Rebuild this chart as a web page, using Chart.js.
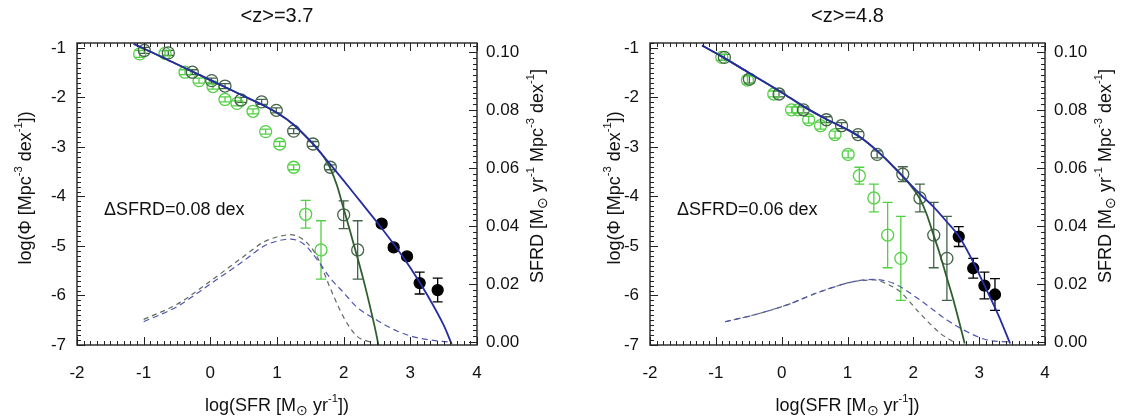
<!DOCTYPE html>
<html>
<head>
<meta charset="utf-8">
<script src="https://cdn.jsdelivr.net/npm/chart.js@4/dist/chart.umd.min.js"></script>
<style>
  body { margin: 0; background: #fff; width: 1121px; height: 416px; overflow: hidden; position: relative; }
  canvas { position: absolute; top: 0; }
</style>
</head>
<body>
<canvas id="left" style="left:0"></canvas>
<canvas id="right" style="left:560px"></canvas>
<script>
// axes shared by both panels
const xTickValues = [-2, -1, 0, 1, 2, 3, 4];
const xTickLabels = ["-2", "-1", "0", "1", "2", "3", "4"];
const yTickValues = [-7, -6, -5, -4, -3, -2, -1];
const yTickLabels = ["-7", "-6", "-5", "-4", "-3", "-2", "-1"];
const sfrdTickValues = [0, 0.02, 0.04, 0.06, 0.08, 0.10];
const sfrdTickLabels = ["0.00", "0.02", "0.04", "0.06", "0.08", "0.10"];

const xTitle = [{ t: "log(SFR [M" }, { t: "⊙", sub: true }, { t: " yr" }, { t: "-1", sup: true }, { t: "])" }];
const yTitle = [{ t: "log(Φ [Mpc" }, { t: "-3", sup: true }, { t: " dex" }, { t: "-1", sup: true }, { t: "])" }];
const y2Title = [{ t: "SFRD [M" }, { t: "⊙", sub: true }, { t: " yr" }, { t: "-1", sup: true }, { t: " Mpc" },
                 { t: "-3", sup: true }, { t: " dex" }, { t: "-1", sup: true }, { t: "]" }];

// <z>=3.7
const z37Title = "<z>=3.7";
const z37Note = "ΔSFRD=0.08 dex";
const z37UvX   = [-1.06, -0.68, -0.38, -0.17, 0.04, 0.22, 0.40, 0.64, 0.83, 1.04, 1.25, 1.43, 1.66];
const z37UvY   = [-1.12, -1.11, -1.49, -1.66, -1.78, -2.04, -2.12, -2.28, -2.69, -2.94, -3.41, -4.36, -5.08];
const z37UvErr = [0.07, 0.05, 0.05, 0.05, 0.05, 0.05, 0.05, 0.05, 0.05, 0.05, 0.05, 0.28, 0.59];
const z37CorrX   = [-0.99, -0.63, -0.27, 0.02, 0.22, 0.46, 0.77, 0.99, 1.25, 1.54, 1.80, 2.00, 2.21];
const z37CorrY   = [-1.05, -1.10, -1.49, -1.66, -1.77, -2.05, -2.09, -2.26, -2.68, -2.94, -3.41, -4.37, -5.08];
const z37CorrErr = [0.06, 0.05, 0.05, 0.05, 0.05, 0.05, 0.05, 0.05, 0.05, 0.05, 0.05, 0.28, 0.59];
const z37IrX   = [2.57, 2.75, 2.95, 3.14, 3.41];
const z37IrY   = [-4.55, -5.03, -5.21, -5.75, -5.89];
const z37IrErr = [0.06, 0.06, 0.06, 0.22, 0.24];
const z37FitX = [-1.15, -1.0, -0.5, 0.0, 0.5, 0.75, 1.0, 1.25, 1.5, 1.75, 2.0, 2.25, 2.5, 2.75, 3.0, 3.25, 3.5, 3.62];
const z37FitY = [-0.92, -1.01, -1.33, -1.65, -1.97, -2.13, -2.31, -2.55, -2.88, -3.27, -3.68, -4.10, -4.52, -4.96, -5.44, -5.98, -6.60, -6.98];
const z37UvFitX = [-1.15, -1.0, -0.5, 0.0, 0.5, 0.75, 1.0, 1.25, 1.5, 1.6, 1.7, 1.8, 1.9, 2.0, 2.1, 2.2, 2.3, 2.4, 2.5, 2.52];
const z37UvFitY = [-0.92, -1.01, -1.33, -1.65, -1.97, -2.13, -2.31, -2.55, -2.88, -3.02, -3.20, -3.43, -3.78, -4.25, -4.72, -5.20, -5.70, -6.25, -6.85, -7.0];
const z37SfrdX = [-1.0, -0.5, 0.0, 0.5, 0.8, 1.0, 1.2, 1.4, 1.6, 1.8, 2.0, 2.2, 2.5, 2.8, 3.1, 3.4, 3.6];
const z37SfrdY = [0.0070, 0.0122, 0.0200, 0.0280, 0.0330, 0.0348, 0.0355, 0.0338, 0.0285, 0.0220, 0.0170, 0.0120, 0.0075, 0.0038, 0.0015, 0.0004, 0.0];
const z37UvSfrdX = [-1.0, -0.5, 0.0, 0.5, 0.8, 1.0, 1.2, 1.4, 1.6, 1.8, 2.0, 2.2, 2.4];
const z37UvSfrdY = [0.0078, 0.0130, 0.0210, 0.0295, 0.0345, 0.0362, 0.0370, 0.0352, 0.0295, 0.0185, 0.0085, 0.0020, 0.0];

// <z>=4.8
const z48Title = "<z>=4.8";
const z48Note = "ΔSFRD=0.06 dex";
const z48UvX   = [-0.91, -0.52, -0.12, 0.15, 0.25, 0.41, 0.59, 0.81, 1.01, 1.18, 1.40, 1.61, 1.81];
const z48UvY   = [-1.19, -1.65, -1.93, -2.25, -2.25, -2.45, -2.57, -2.75, -3.15, -3.58, -4.03, -4.78, -5.25];
const z48UvErr = [0.06, 0.08, 0.06, 0.06, 0.06, 0.07, 0.07, 0.07, 0.07, 0.17, 0.28, 0.66, 0.85];
const z48CorrX   = [-0.87, -0.49, -0.04, 0.33, 0.68, 0.91, 1.16, 1.45, 1.84, 2.10, 2.31, 2.51];
const z48CorrY   = [-1.19, -1.63, -1.93, -2.25, -2.45, -2.57, -2.75, -3.15, -3.55, -4.03, -4.78, -5.25];
const z48CorrErr = [0.06, 0.08, 0.06, 0.06, 0.06, 0.06, 0.06, 0.07, 0.15, 0.28, 0.66, 0.85];
const z48IrX   = [2.69, 2.91, 3.08, 3.24];
const z48IrY   = [-4.81, -5.45, -5.80, -5.98];
const z48IrErr = [0.20, 0.20, 0.27, 0.32];
const z48FitX = [-1.21, -0.9, -0.5, 0.0, 0.33, 0.68, 1.0, 1.2, 1.45, 1.7, 1.9, 2.1, 2.3, 2.5, 2.7, 2.9, 3.1, 3.3, 3.47];
const z48FitY = [-0.95, -1.18, -1.50, -1.90, -2.18, -2.44, -2.65, -2.81, -3.08, -3.40, -3.68, -3.95, -4.20, -4.50, -4.82, -5.30, -5.85, -6.42, -6.97];
const z48UvFitX = [-1.21, -0.9, -0.5, 0.0, 0.33, 0.68, 1.0, 1.2, 1.45, 1.7, 1.9, 2.0, 2.1, 2.2, 2.3, 2.4, 2.5, 2.6, 2.7, 2.78];
const z48UvFitY = [-0.95, -1.18, -1.50, -1.90, -2.18, -2.44, -2.65, -2.81, -3.08, -3.40, -3.68, -3.85, -4.05, -4.35, -4.75, -5.15, -5.60, -6.05, -6.55, -6.97];
const z48SfrdX = [-0.86, -0.43, 0.08, 0.58, 1.09, 1.4, 1.7, 2.1, 2.51, 2.81, 3.12, 3.47];
const z48SfrdY = [0.0070, 0.0093, 0.0128, 0.0173, 0.0208, 0.0216, 0.0202, 0.0145, 0.0076, 0.0036, 0.0007, 0.0];
const z48UvSfrdX = [-0.86, -0.43, 0.08, 0.58, 1.09, 1.4, 1.6, 1.8, 2.1, 2.41, 2.61];
const z48UvSfrdY = [0.0070, 0.0093, 0.0128, 0.0173, 0.0208, 0.0214, 0.0200, 0.0173, 0.0099, 0.0030, 0.0];

const C = {
  uv: "#52d044", corr: "#44634a", ir: "#000000",
  fit: "#262ca4", uvFit: "#2f5f2f", sfrd: "#4f55b3", uvSfrd: "#5d6a60",
  text: "#111111", axis: "#222222"
};
const FONT = "'Liberation Sans', Arial, Helvetica, sans-serif";
Chart.defaults.font.family = FONT;

function pts(xs, ys) { return xs.map((x, i) => ({ x, y: ys[i] })); }

// text with super/subscripts, centered on (cx, cy)
function richText(ctx, parts, cx, cy, size, rot) {
  ctx.save();
  ctx.translate(cx, cy);
  ctx.rotate(rot);
  const fonts = parts.map(p => (p.sup ? size * 0.62 : p.sub ? size * 0.8 : size) + "px " + FONT);
  let w = 0;
  const ws = parts.map((p, i) => { ctx.font = fonts[i]; const m = ctx.measureText(p.t).width; w += m; return m; });
  let x = -w / 2;
  ctx.textBaseline = "middle";
  ctx.textAlign = "left";
  ctx.fillStyle = C.text;
  parts.forEach((p, i) => {
    ctx.font = fonts[i];
    const dy = p.sup ? -size * 0.4 : p.sub ? size * 0.3 : 0;
    ctx.fillText(p.t, x, dy);
    x += ws[i];
  });
  ctx.restore();
}

const errorBars = {
  id: "errorBars",
  beforeDatasetsDraw(chart) {
    const { ctx, chartArea: a, scales: { x, y } } = chart;
    ctx.save();
    ctx.beginPath();
    ctx.rect(a.left, a.top, a.right - a.left, a.bottom - a.top);
    ctx.clip();
    chart.data.datasets.forEach(ds => {
      if (!ds.errY) return;
      ctx.strokeStyle = ds.errColor;
      ctx.lineWidth = 1.3;
      ds.data.forEach((p, i) => {
        const e = ds.errY[i];
        const px = x.getPixelForValue(p.x);
        const hi = y.getPixelForValue(p.y + e);
        const lo = y.getPixelForValue(p.y - e);
        ctx.beginPath();
        ctx.moveTo(px, hi); ctx.lineTo(px, lo);
        ctx.moveTo(px - 5, hi); ctx.lineTo(px + 5, hi);
        ctx.moveTo(px - 5, lo); ctx.lineTo(px + 5, lo);
        ctx.stroke();
      });
    });
    ctx.restore();
  }
};

// IDL-like box with inward ticks, titles and annotation
const frame = {
  id: "frame",
  afterDraw(chart, args, opts) {
    const { ctx, chartArea: a, scales: { x, y, y2 } } = chart;
    ctx.save();
    ctx.strokeStyle = C.axis;
    ctx.lineWidth = 1;
    ctx.beginPath();
    for (let k = 0; k <= 60; k++) {
      const px = Math.round(x.getPixelForValue(-2 + k * 0.1)) + 0.5;
      const len = k % 10 === 0 ? 8 : 4;
      ctx.moveTo(px, a.bottom); ctx.lineTo(px, a.bottom - len);
      ctx.moveTo(px, a.top); ctx.lineTo(px, a.top + len);
    }
    for (let k = 0; k <= 61; k++) {
      const py = Math.round(y.getPixelForValue(-7 + k * 0.1)) + 0.5;
      const len = k % 10 === 0 ? 8 : 4;
      ctx.moveTo(a.left, py); ctx.lineTo(a.left + len, py);
    }
    for (let k = 0; k <= 51; k++) {
      const py = Math.round(y2.getPixelForValue(k * 0.002)) + 0.5;
      const len = k % 10 === 0 ? 8 : 4;
      ctx.moveTo(a.right, py); ctx.lineTo(a.right - len, py);
    }
    ctx.stroke();
    ctx.lineWidth = 1.4;
    ctx.strokeRect(a.left, a.top, a.right - a.left, a.bottom - a.top);

    const cx = (a.left + a.right) / 2;
    ctx.fillStyle = C.text;
    ctx.font = "20px " + FONT;
    ctx.textAlign = "center";
    ctx.textBaseline = "middle";
    ctx.fillText(opts.title, cx, 16);
    ctx.font = "18px " + FONT;
    ctx.textAlign = "left";
    ctx.fillText(opts.note, a.left + 27, 210);
    richText(ctx, xTitle, cx, 406, 18, 0);
    richText(ctx, yTitle, opts.yTitleX, (a.top + a.bottom) / 2 - 6, 18, -Math.PI / 2);
    richText(ctx, y2Title, a.right + 61, (a.top + a.bottom) / 2 - 18, 18, -Math.PI / 2);
    ctx.restore();
  }
};

function lineSet(xs, ys, color, axis, dash) {
  return {
    data: pts(xs, ys), yAxisID: axis, showLine: true, pointRadius: 0,
    borderColor: color, borderWidth: dash ? 1.2 : 1.8, borderDash: dash || [],
    cubicInterpolationMode: "monotone", fill: false
  };
}
function pointSet(xs, ys, errs, color, filled) {
  return {
    data: pts(xs, ys), yAxisID: "y", showLine: false, errY: errs, errColor: color,
    pointStyle: "circle", pointRadius: filled ? 5.5 : 6, borderWidth: 1.3,
    borderColor: color, backgroundColor: filled ? color : "rgba(0,0,0,0)"
  };
}

function makeChart(id, W, boxL, boxR, p) {
  const canvas = document.getElementById(id);
  canvas.width = W;
  canvas.height = 416;
  const tickFont = { size: 17, family: FONT };
  return new Chart(canvas, {
    type: "scatter",
    data: {
      datasets: [
        lineSet(p.fitX, p.fitY, C.fit, "y"),
        lineSet(p.uvFitX, p.uvFitY, C.uvFit, "y"),
        lineSet(p.sfrdX, p.sfrdY, C.sfrd, "y2", [6, 4]),
        lineSet(p.uvSfrdX, p.uvSfrdY, C.uvSfrd, "y2", [5, 4]),
        pointSet(p.irX, p.irY, p.irErr, C.ir, true),
        pointSet(p.corrX, p.corrY, p.corrErr, C.corr, false),
        pointSet(p.uvX, p.uvY, p.uvErr, C.uv, false)
      ]
    },
    options: {
      responsive: false,
      animation: false,
      events: [],
      layout: { padding: { top: 43, left: 0, right: 0, bottom: 0 } },
      plugins: {
        legend: { display: false },
        tooltip: { enabled: false },
        frame: { title: p.title, note: p.note, yTitleX: p.yTitleX }
      },
      scales: {
        x: {
          type: "linear", min: -2, max: 4,
          grid: { display: false, drawTicks: false }, border: { display: false },
          afterBuildTicks: s => { s.ticks = xTickValues.map(v => ({ value: v })); },
          afterFit: s => { s.height = 71; },
          ticks: { padding: 18, font: tickFont, color: C.text, autoSkip: false, maxRotation: 0,
                   callback: (v, i) => xTickLabels[i] }
        },
        y: {
          type: "linear", position: "left", min: -7, max: -0.9,
          grid: { display: false, drawTicks: false }, border: { display: false },
          afterBuildTicks: s => { s.ticks = yTickValues.map(v => ({ value: v })); },
          afterFit: s => { s.width = boxL; },
          ticks: { padding: 11, font: tickFont, color: C.text, autoSkip: false,
                   callback: (v, i) => yTickLabels[i] }
        },
        y2: {
          type: "linear", position: "right", min: -0.00103, max: 0.1031,
          grid: { display: false, drawTicks: false }, border: { display: false },
          afterBuildTicks: s => { s.ticks = sfrdTickValues.map(v => ({ value: v })); },
          afterFit: s => { s.width = W - boxR; },
          ticks: { padding: 9, font: tickFont, color: C.text, autoSkip: false,
                   callback: (v, i) => sfrdTickLabels[i] }
        }
      }
    },
    plugins: [errorBars, frame]
  });
}

makeChart("left", 560, 77, 477, {
  title: z37Title, note: z37Note, yTitleX: 26,
  uvX: z37UvX, uvY: z37UvY, uvErr: z37UvErr,
  corrX: z37CorrX, corrY: z37CorrY, corrErr: z37CorrErr,
  irX: z37IrX, irY: z37IrY, irErr: z37IrErr,
  fitX: z37FitX, fitY: z37FitY, uvFitX: z37UvFitX, uvFitY: z37UvFitY,
  sfrdX: z37SfrdX, sfrdY: z37SfrdY, uvSfrdX: z37UvSfrdX, uvSfrdY: z37UvSfrdY
});
makeChart("right", 561, 90, 485, {
  title: z48Title, note: z48Note, yTitleX: 55,
  uvX: z48UvX, uvY: z48UvY, uvErr: z48UvErr,
  corrX: z48CorrX, corrY: z48CorrY, corrErr: z48CorrErr,
  irX: z48IrX, irY: z48IrY, irErr: z48IrErr,
  fitX: z48FitX, fitY: z48FitY, uvFitX: z48UvFitX, uvFitY: z48UvFitY,
  sfrdX: z48SfrdX, sfrdY: z48SfrdY, uvSfrdX: z48UvSfrdX, uvSfrdY: z48UvSfrdY
});
</script>
</body>
</html>
